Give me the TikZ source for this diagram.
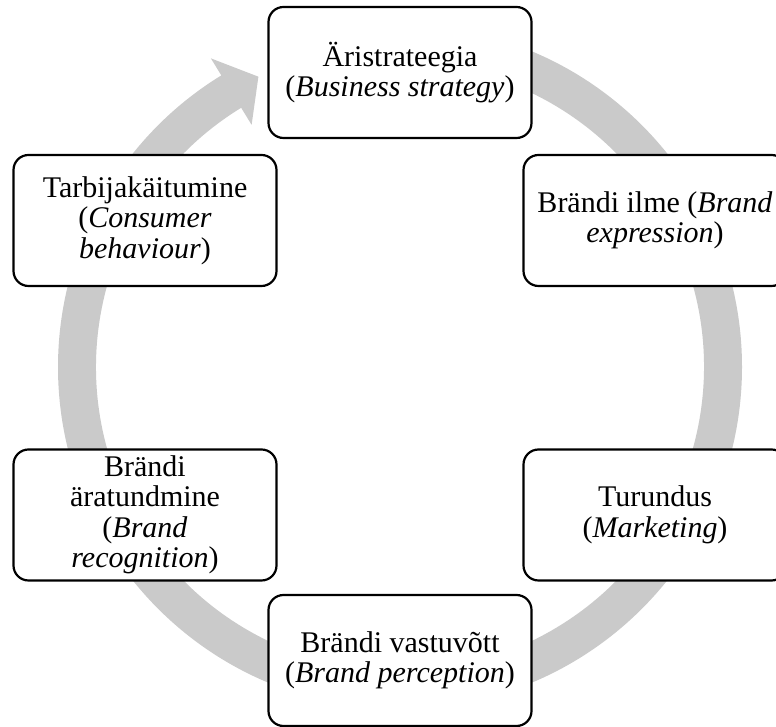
\documentclass[tikz,border=0pt]{standalone}
\usepackage{fontspec}
\setmainfont{Liberation Serif}
\definecolor{ringgray}{RGB}{202,202,202}
\begin{document}
\begin{tikzpicture}[x=1pt,y=1pt,
	stage/.style={draw,line width=2.2pt,rounded corners=15pt,fill=white,minimum width=263pt,minimum height=131pt,inner sep=0pt,align=center,font=\fontsize{30}{30.5}\selectfont}]
	\useasboundingbox (0,0) rectangle (776,727);
	\clip (0,0) rectangle (776,727);
	\fill[ringgray,shift={(400,360)}] (90:342) arc[start angle=90,end angle=-238.5,radius=342] -- (121.5:362) -- (116:323) -- (121.5:284) -- (121.5:304) arc[start angle=-238.5,end angle=90,radius=304] -- cycle;
	\node[stage] (strat) at (400,654.5) {Äristrateegia\\(\textit{Business strategy})};
	\node[stage] (expr) at (655,506.5) {Brändi ilme (\textit{Brand}\\\textit{expression})};
	\node[stage] (mark) at (655,212) {Turundus\\(\textit{Marketing})};
	\node[stage] (perc) at (400,66.5) {Brändi vastuvõtt\\(\textit{Brand perception})};
	\node[stage] (recog) at (145,212) {Brändi\\äratundmine\\(\textit{Brand}\\\textit{recognition})};
	\node[stage] (cons) at (145,506.5) {Tarbijakäitumine\\(\textit{Consumer}\\\textit{behaviour})};
\end{tikzpicture}
\end{document}
